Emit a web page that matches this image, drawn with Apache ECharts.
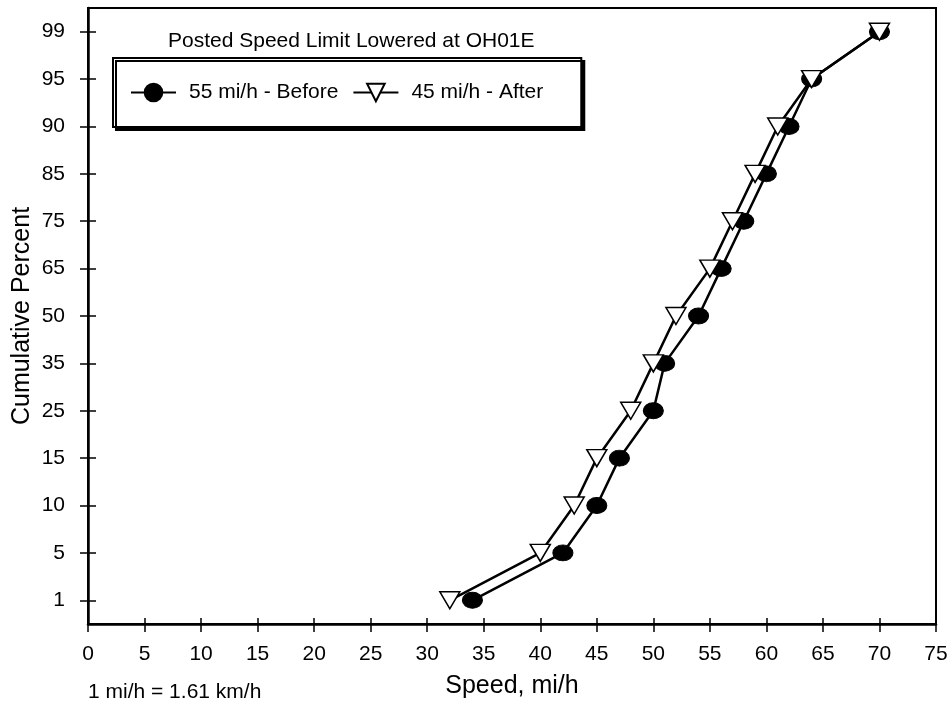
<!DOCTYPE html>
<html>
<head>
<meta charset="utf-8">
<script src="https://cdn.jsdelivr.net/npm/echarts@6/dist/echarts.min.js"></script>
<style>html,body{margin:0;padding:0;background:#fff}#c{width:948px;height:709px}</style>
</head>
<body>
<div id="c"></div>
<script>
// Cumulative percent categories (probability-scale tick labels)
const percentLabels = ['1','5','10','15','25','35','50','65','75','85','90','95','99'];
// Speeds (mi/h) at each cumulative percent
const beforeSpeeds = [34,42,45,47,50,51,54,56,58,60,62,64,70];
const afterSpeeds  = [32,40,43,45,48,50,52,55,57,59,61,64,70];
const xTicks = {min:0, max:75, interval:5};

const FONT = 'Liberation Sans, Arial, sans-serif';
const chart = echarts.init(document.getElementById('c'), null, {renderer:'canvas'});

function pairs(arr){ return arr.map((v,i)=>[v, percentLabels[i]]); }

const option = {
  backgroundColor:'#fff',
  animation:false,
  textStyle:{fontFamily:FONT, color:'#000'},
  title:{
    text:'Posted Speed Limit Lowered at OH01E',
    left:163, top:26,
    textStyle:{fontFamily:FONT, fontSize:21, fontWeight:'normal', color:'#000'}
  },
  legend:{
    left:113, top:58,
    orient:'horizontal',
    padding:[24,38,24,17],
    itemGap:14,
    itemWidth:45, itemHeight:22,
    borderColor:'#000', borderWidth:2,
    backgroundColor:'#fff',
    shadowColor:'#000', shadowBlur:0, shadowOffsetX:3, shadowOffsetY:3,
    textStyle:{fontFamily:FONT, fontSize:21, color:'#000', padding:[0,0,0,8]},
    data:['55 mi/h - Before','45 mi/h - After']
  },
  grid:{
    left:88, right:12, top:8, bottom:85,
    outerBoundsMode:'none', containLabel:false,
    show:true, borderColor:'#000', borderWidth:2, backgroundColor:'transparent'
  },
  xAxis:[{
    type:'value', min:xTicks.min, max:xTicks.max, interval:xTicks.interval,
    position:'bottom',
    name:'Speed, mi/h', nameLocation:'middle', nameGap:50, nameMoveOverlap:false,
    nameTextStyle:{fontFamily:FONT, fontSize:25, color:'#000'},
    axisLine:{show:true, lineStyle:{color:'#000', width:2.5}},
    axisTick:{show:true, length:8, inside:false, lineStyle:{color:'#000', width:1.5}},
    axisLabel:{fontFamily:FONT, fontSize:21, color:'#000', margin:20},
    splitLine:{show:false}
  },{
    type:'value', min:xTicks.min, max:xTicks.max, interval:xTicks.interval,
    position:'bottom',
    axisLine:{show:false},
    axisTick:{show:true, length:6, inside:true, lineStyle:{color:'#000', width:1.5}},
    axisLabel:{show:false},
    splitLine:{show:false}
  }],
  yAxis:[{
    type:'category', data:percentLabels, boundaryGap:true,
    position:'left',
    name:'Cumulative Percent', nameLocation:'middle', nameGap:53, nameMoveOverlap:false,
    nameTextStyle:{fontFamily:FONT, fontSize:25, color:'#000'},
    axisLine:{show:true, lineStyle:{color:'#000', width:2.5}},
    axisTick:{show:true, alignWithLabel:true, length:8, inside:false, lineStyle:{color:'#000', width:1.5}},
    axisLabel:{fontFamily:FONT, fontSize:21, color:'#000', margin:23, padding:[0,0,8,0]},
    splitLine:{show:false}
  },{
    type:'category', data:percentLabels, boundaryGap:true,
    position:'left',
    axisLine:{show:false},
    axisTick:{show:true, alignWithLabel:true, length:8, inside:true, lineStyle:{color:'#000', width:1.5}},
    axisLabel:{show:false},
    splitLine:{show:false}
  }],
  graphic:[{
    type:'text', left:88, top:682,
    style:{text:'1 mi/h = 1.61 km/h', font:'21px '+FONT, fill:'#000'}
  }],
  series:[{
    name:'55 mi/h - Before', type:'line',
    xAxisIndex:0, yAxisIndex:0,
    data:pairs(beforeSpeeds),
    symbol:'circle', symbolSize:[20,16],
    lineStyle:{color:'#000', width:2.5},
    itemStyle:{color:'#000', borderColor:'#000', borderWidth:1},
    z:2
  },{
    name:'45 mi/h - After', type:'line',
    xAxisIndex:0, yAxisIndex:0,
    data:pairs(afterSpeeds),
    symbol:'triangle', symbolRotate:180, symbolSize:[20,17],
    lineStyle:{color:'#000', width:2.5},
    itemStyle:{color:'#fff', borderColor:'#000', borderWidth:1.5},
    z:3
  }]
};
chart.setOption(option);
</script>
</body>
</html>
